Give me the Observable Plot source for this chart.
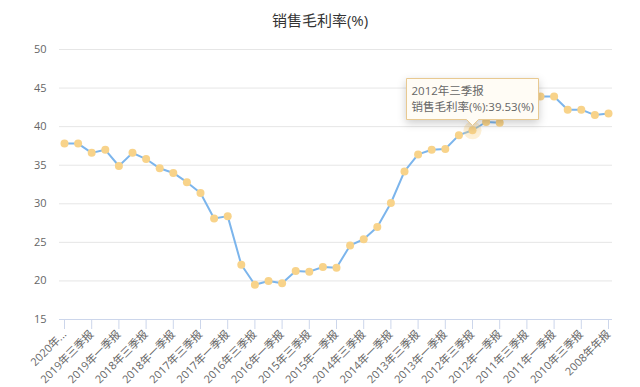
<!DOCTYPE html>
<html>
<head>
<meta charset="utf-8">
<script src="https://cdn.jsdelivr.net/npm/d3@7"></script>
<script src="https://cdn.jsdelivr.net/npm/@observablehq/plot@0.6"></script>
<style>
  html, body { margin: 0; padding: 0; background: #fff; }
  body { width: 640px; height: 387px; overflow: hidden; font-family: "Open Sans", "Noto Sans CJK SC", sans-serif; }
  #title { height: 36px; box-sizing: border-box; padding-top: 11px; line-height: 18px; text-align: center; font-size: 15px; color: #333; }
</style>
</head>
<body>
<div id="title">销售毛利率(%)</div>
<div id="chart"></div>
<script>
const categories = [
  "2020年一季报",
  "2019年年报","2019年三季报","2019年中报","2019年一季报",
  "2018年年报","2018年三季报","2018年中报","2018年一季报",
  "2017年年报","2017年三季报","2017年中报","2017年一季报",
  "2016年年报","2016年三季报","2016年中报","2016年一季报",
  "2015年年报","2015年三季报","2015年中报","2015年一季报",
  "2014年年报","2014年三季报","2014年中报","2014年一季报",
  "2013年年报","2013年三季报","2013年中报","2013年一季报",
  "2012年年报","2012年三季报","2012年中报","2012年一季报",
  "2011年年报","2011年三季报","2011年中报","2011年一季报",
  "2010年年报","2010年三季报","2010年中报",
  "2008年年报"
];
const values = [
  37.8,
  37.8, 36.6, 37.0, 34.9,
  36.6, 35.8, 34.6, 34.0,
  32.8, 31.4, 28.1, 28.4,
  22.1, 19.5, 20.0, 19.7,
  21.3, 21.2, 21.8, 21.7,
  24.6, 25.4, 27.0, 30.1,
  34.2, 36.4, 37.0, 37.1,
  38.9, 39.53, 40.6, 40.5,
  43.4, 44.0, 43.9, 43.9,
  42.2, 42.2, 41.5,
  41.7
];
const xTickLabels = [
  "2020年...","2019年三季报","2019年一季报","2018年三季报","2018年一季报",
  "2017年三季报","2017年一季报","2016年三季报","2016年一季报","2015年三季报",
  "2015年一季报","2014年三季报","2014年一季报","2013年三季报","2013年一季报",
  "2012年三季报","2012年一季报","2011年三季报","2011年一季报","2010年三季报",
  "2008年年报"
];
const yTicks = [15, 20, 25, 30, 35, 40, 45, 50];
const seriesName = "销售毛利率(%)";
const tipCategory = "2012年三季报";

const data = categories.map((c, i) => ({category: c, value: values[i]}));
const xTicks = categories.filter((d, i) => i % 2 === 0);
const tipDatum = data.filter(d => d.category === tipCategory);

const marks = [
  Plot.ruleY(yTicks.filter(v => v !== 15), {stroke: "#e6e6e6", strokeWidth: 1}),
  Plot.ruleY([15], {stroke: "#ccd6eb", strokeWidth: 1}),
  Plot.axisY({ticks: yTicks, tickSize: 0, tickPadding: 13, fill: "#666", label: null}),
  Plot.axisX({
    ticks: xTicks,
    tickFormat: d => xTickLabels[xTicks.indexOf(d)],
    tickRotate: -45,
    tickSize: 10,
    tickPadding: 3,
    stroke: "#ccd6eb",
    fill: "#666",
    label: null
  }),
  Plot.line(data, {x: "category", y: "value", stroke: "#7cb5ec", strokeWidth: 2}),
  Plot.dot(tipDatum, {x: "category", y: "value", r: 9, fill: "#f8d38a", fillOpacity: 0.35}),
  Plot.dot(data, {x: "category", y: "value", r: 4, fill: "#f8d38a"})
];
if (typeof Plot.tip === "function") {
  marks.push(Plot.tip(tipDatum, {
    x: "category", y: "value",
    title: d => `${d.category}\n${seriesName}:${d.value.toFixed(2)}(%)`,
    anchor: "bottom",
    dy: -5,
    fill: "#fffcf5",
    stroke: "#e8c991",
    fontSize: 11.5,
    textPadding: 5,
    lineHeight: 1.4
  }));
}

const chart = Plot.plot({
  width: 640,
  height: 351,
  marginTop: 13,
  marginBottom: 68,
  marginLeft: 59,
  marginRight: 28,
  style: {fontFamily: '"Open Sans", "Noto Sans CJK SC", sans-serif', fontSize: "11px", color: "#666", background: "#fff", overflow: "visible"},
  x: {type: "point", domain: categories, range: [64, 608], padding: 0, round: false},
  y: {domain: [15, 50]},
  marks
});
document.getElementById("chart").appendChild(chart);
</script>
</body>
</html>
